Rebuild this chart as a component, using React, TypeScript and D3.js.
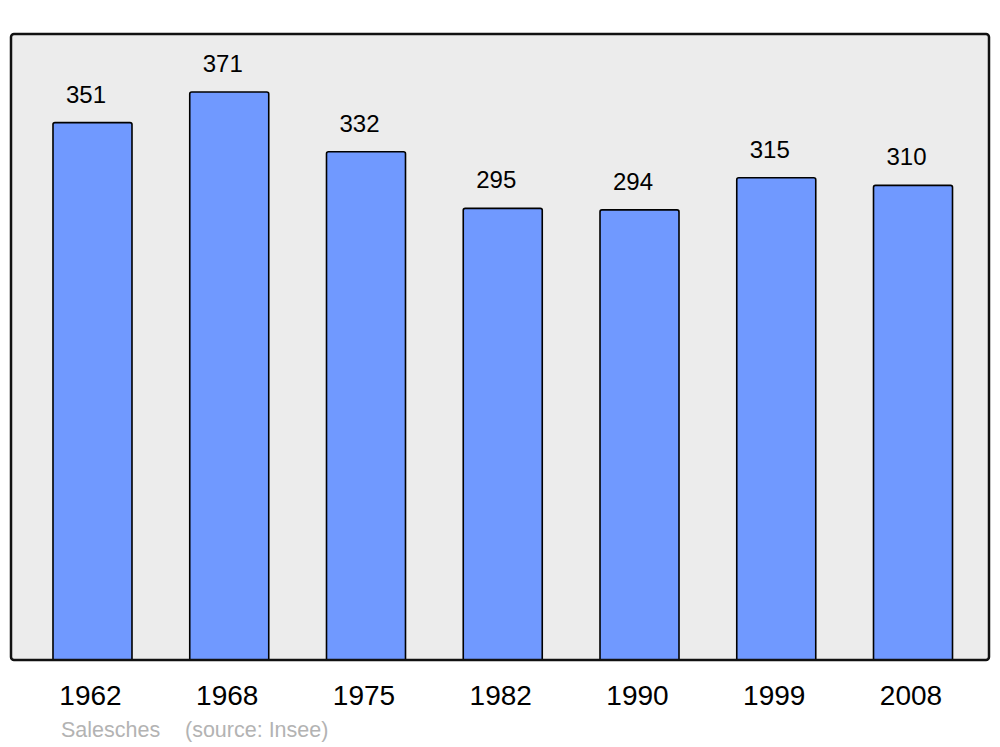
import React from "react";
import * as d3 from "d3";

const years = ["1962", "1968", "1975", "1982", "1990", "1999", "2008"];
const population = [351, 371, 332, 295, 294, 315, 310];
const title = "Salesches";
const source = "(source: Insee)";

export default function App() {
  const W = 1000, H = 747;
  const panel = { x: 11, y: 34, w: 978, h: 626 };
  const x = d3.scaleBand<string>().domain(years).range([14.7, 990.8]).paddingInner(0.4223).paddingOuter(0.28);
  const y = d3.scaleLinear().domain([0, 371]).range([660, 92]);
  const bw = x.bandwidth();
  const r = 2;
  const barPath = (x0: number, y0: number, w: number, y1: number) => {
    const p = d3.path();
    p.moveTo(x0, y1);
    p.lineTo(x0, y0 + r);
    p.quadraticCurveTo(x0, y0, x0 + r, y0);
    p.lineTo(x0 + w - r, y0);
    p.quadraticCurveTo(x0 + w, y0, x0 + w, y0 + r);
    p.lineTo(x0 + w, y1);
    return p.toString();
  };
  return (
    <svg width={W} height={H} style={{ position: "absolute", left: 0, top: 0 }} fontFamily="'Liberation Sans', Arial, sans-serif">
      <rect x={0} y={0} width={W} height={H} fill="#ffffff" />
      <rect x={panel.x} y={panel.y} width={panel.w} height={panel.h} rx={3} fill="#ececec" stroke="none" />
      {years.map((yr, i) => {
        const x0 = x(yr)!;
        return (
          <g key={yr}>
            <path d={barPath(x0, y(population[i]), bw, y(0))} fill="#7099ff" stroke="#000" strokeWidth={1.6} />
            <text x={x0 + bw / 2 - 6.5} y={y(population[i]) - 20} textAnchor="middle" fontSize={24} fill="#000">
              {population[i]}
            </text>
            <text x={x0 + bw / 2 - 2} y={705} textAnchor="middle" fontSize={28} fill="#000">
              {yr}
            </text>
          </g>
        );
      })}
      <rect x={panel.x} y={panel.y} width={panel.w} height={panel.h} rx={3} fill="none" stroke="#111" strokeWidth={2.5} />
      <text x={61} y={737} fontSize={21.5} fill="#b3b3b3">{title}</text>
      <text x={185} y={737} fontSize={21.5} fill="#b3b3b3">{source}</text>
    </svg>
  );
}
